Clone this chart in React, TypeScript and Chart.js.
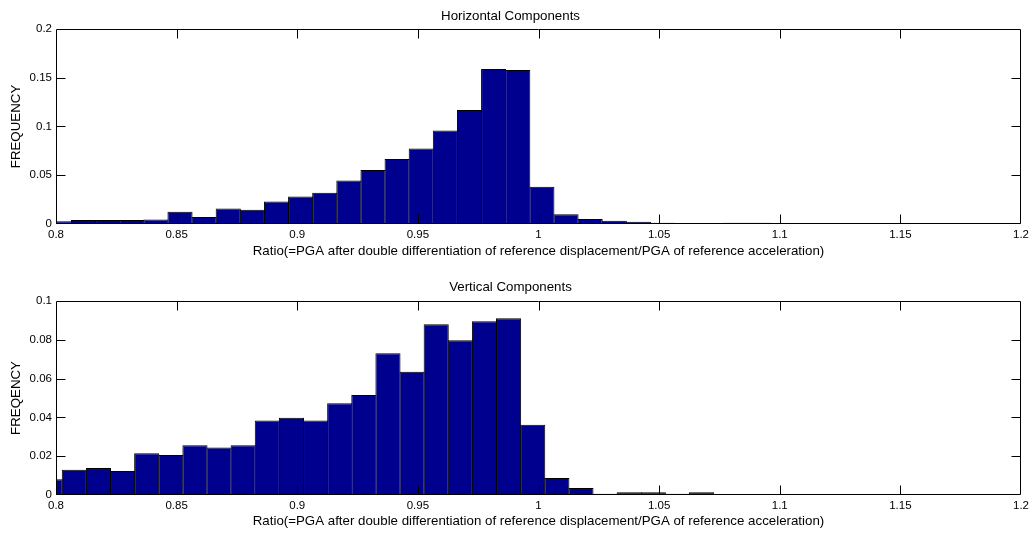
import React, { useEffect, useRef } from 'react';
import { Chart, registerables } from 'chart.js';

Chart.register(...registerables);

const FONT_FAMILY = '"Liberation Sans", Arial, Helvetica, sans-serif';
const BAR_COLOR = '#00008F';

const X_LABEL = 'Ratio(=PGA after double differentiation of reference displacement/PGA of reference acceleration)';
const H_TITLE = 'Horizontal Components';
const V_TITLE = 'Vertical Components';
const H_YLABEL = 'FREQUENCY';
const V_YLABEL = 'FREQENCY';

// Horizontal components: bin centres and frequencies
const hCenters = [
  0.8014, 0.8114, 0.8214, 0.8314, 0.8414, 0.8514, 0.8614, 0.8714, 0.8814, 0.8914,
  0.9014, 0.9114, 0.9214, 0.9314, 0.9414, 0.9514, 0.9614, 0.9714, 0.9814, 0.9914,
  1.0014, 1.0114, 1.0214, 1.0314, 1.0414, 1.0514, 1.0614, 1.0714, 1.0814, 1.0914,
  1.1014, 1.1114, 1.1214, 1.1314, 1.1414, 1.1514, 1.1614, 1.1714, 1.1814, 1.1914,
  1.2014,
];
const hValues = [
  0.0027, 0.0041, 0.0041, 0.0041, 0.0047, 0.0126, 0.0072, 0.016, 0.0147, 0.0232,
  0.0283, 0.0321, 0.0447, 0.0554, 0.0667, 0.0775, 0.096, 0.1169, 0.159, 0.158,
  0.0383, 0.01, 0.0051, 0.0034, 0.0024, 0.0012, 0.001, 0.0003, 0.0012, 0.0013,
  0.0004, 0, 0, 0.0008, 0, 0, 0, 0.0008, 0, 0,
  0.0008,
];

// Vertical components: bin centres and frequencies
const vCenters = [
  0.7976, 0.8076, 0.8176, 0.8276, 0.8376, 0.8476, 0.8576, 0.8676, 0.8776, 0.8876,
  0.8976, 0.9076, 0.9176, 0.9276, 0.9376, 0.9476, 0.9576, 0.9676, 0.9776, 0.9876,
  0.9976, 1.0076, 1.0176, 1.0276, 1.0376, 1.0476, 1.0576, 1.0676,
];
const vValues = [
  0.0081, 0.013, 0.0139, 0.0124, 0.0215, 0.0206, 0.0256, 0.0245, 0.0257, 0.0384,
  0.0398, 0.0384, 0.0473, 0.0516, 0.0731, 0.0635, 0.088, 0.0798, 0.0896, 0.0911,
  0.0362, 0.0087, 0.0036, 0.0006, 0.0014, 0.0014, 0.0007, 0.0014,
];

const X_MIN = 0.8;
const X_MAX = 1.2;
const X_STEP = 0.05;
const H_YMAX = 0.2;
const H_YSTEP = 0.05;
const V_YMAX = 0.1;
const V_YSTEP = 0.02;

const fmt = (v: number) => String(Number(Number(v).toFixed(3)));

const TICK_LEN = 9;

const boxPlugin = {
  id: 'matlabBox',
  afterDatasetsDraw(chart: any) {
    const { ctx, chartArea } = chart;
    const left = Math.round(chartArea.left) + 0.5;
    const right = Math.round(chartArea.right) - 0.5;
    const top = Math.round(chartArea.top) + 0.5;
    const bottom = Math.round(chartArea.bottom) - 0.5;
    const xs = chart.scales.x;
    const ys = chart.scales.y;
    ctx.save();
    ctx.strokeStyle = '#000';
    ctx.lineWidth = 1;
    ctx.beginPath();
    ctx.rect(left, top, right - left, bottom - top);
    ctx.stroke();
    ctx.beginPath();
    xs.ticks.forEach((t: any) => {
      const p = Math.round(xs.getPixelForValue(t.value)) + 0.5;
      if (p <= left + 1 || p >= right - 1) return;
      ctx.moveTo(p, bottom);
      ctx.lineTo(p, bottom - TICK_LEN);
      ctx.moveTo(p, top);
      ctx.lineTo(p, top + TICK_LEN);
    });
    ys.ticks.forEach((t: any) => {
      const p = Math.round(ys.getPixelForValue(t.value)) + 0.5;
      if (p <= top + 1 || p >= bottom - 1) return;
      ctx.moveTo(left, p);
      ctx.lineTo(left + TICK_LEN, p);
      ctx.moveTo(right, p);
      ctx.lineTo(right - TICK_LEN, p);
    });
    ctx.stroke();
    ctx.restore();
  },
};

type Geom = {
  padTop: number;
  titlePad: number;
  xHeight: number;
  xTickPad: number;
  xTitlePad: number;
};

function makeConfig(
  centers: number[],
  values: number[],
  title: string,
  yLabel: string,
  yMax: number,
  yStep: number,
  g: Geom,
): any {
  const tickFont = { family: FONT_FAMILY, size: 11.5 };
  const labelFont = { family: FONT_FAMILY, size: 13.3, weight: 'normal' as const };
  return {
    type: 'bar',
    data: {
      datasets: [
        {
          data: centers.map((c, i) => ({ x: c, y: values[i] })),
          backgroundColor: BAR_COLOR,
          borderColor: '#000',
          borderWidth: 1,
          barPercentage: 1.0415,
          categoryPercentage: 1,
          clip: 0,
        },
      ],
    },
    options: {
      responsive: false,
      animation: false,
      events: [],
      layout: { padding: { top: g.padTop, right: 14, left: 0, bottom: 0 } },
      plugins: {
        legend: { display: false },
        tooltip: { enabled: false },
        title: {
          display: true,
          text: title,
          color: '#000',
          font: labelFont,
          padding: { top: 0, bottom: g.titlePad },
        },
      },
      scales: {
        x: {
          type: 'linear',
          min: X_MIN,
          max: X_MAX,
          offset: false,
          grid: { display: false, drawTicks: false, offset: false },
          border: { display: false },
          ticks: {
            stepSize: X_STEP,
            autoSkip: false,
            maxRotation: 0,
            color: '#000',
            font: tickFont,
            padding: g.xTickPad,
            callback: (v: any) => fmt(v),
          },
          title: {
            display: true,
            text: X_LABEL,
            color: '#000',
            font: labelFont,
            padding: { top: 0, bottom: g.xTitlePad },
          },
          afterFit: (s: any) => {
            s.height = g.xHeight;
          },
        },
        y: {
          type: 'linear',
          min: 0,
          max: yMax,
          grid: { display: false, drawTicks: false },
          border: { display: false },
          ticks: {
            stepSize: yStep,
            color: '#000',
            font: tickFont,
            padding: 4,
            callback: (v: any) => fmt(v),
          },
          title: {
            display: true,
            text: yLabel,
            color: '#000',
            font: labelFont,
            padding: { top: 8, bottom: 0 },
          },
          afterFit: (s: any) => {
            s.width = 56;
          },
        },
      },
    },
    plugins: [boxPlugin],
  };
}

function HistChart(props: {
  width: number;
  height: number;
  config: () => any;
}) {
  const ref = useRef<HTMLCanvasElement | null>(null);
  useEffect(() => {
    if (!ref.current) return;
    const chart = new Chart(ref.current, props.config());
    return () => chart.destroy();
  }, []);
  return (
    <canvas
      ref={ref}
      width={props.width}
      height={props.height}
      style={{ display: 'block', width: props.width, height: props.height }}
    />
  );
}

export default function App() {
  return (
    <div
      style={{
        position: 'absolute',
        left: 0,
        top: 0,
        width: 1035,
        height: 533,
        background: '#fff',
      }}
    >
      <HistChart
        width={1035}
        height={265}
        config={() =>
          makeConfig(hCenters, hValues, H_TITLE, H_YLABEL, H_YMAX, H_YSTEP, {
            padTop: 8,
            titlePad: 5.0,
            xHeight: 41,
            xTickPad: 4.1,
            xTitlePad: 6.0,
          })
        }
      />
      <HistChart
        width={1035}
        height={268}
        config={() =>
          makeConfig(vCenters, vValues, V_TITLE, V_YLABEL, V_YMAX, V_YSTEP, {
            padTop: 14,
            titlePad: 6.0,
            xHeight: 38,
            xTickPad: 3.8,
            xTitlePad: 3.3,
          })
        }
      />
    </div>
  );
}
